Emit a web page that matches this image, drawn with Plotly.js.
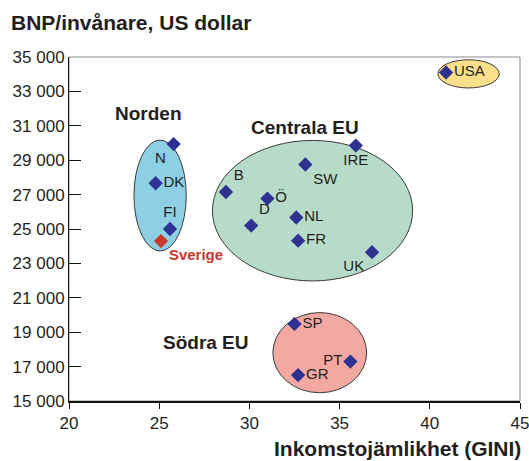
<!DOCTYPE html>
<html>
<head>
<meta charset="utf-8">
<script src="https://cdn.plot.ly/plotly-3.0.1.min.js"></script>
<style>
  html, body { margin: 0; padding: 0; background: #fff; }
  #chart { width: 529px; height: 461px; }
</style>
</head>
<body>
<div id="chart"></div>
<script>
// Country values
const countries = ['N', 'DK', 'FI', 'Sverige', 'B', 'Ö', 'D', 'SW', 'IRE', 'NL', 'FR', 'UK', 'USA', 'SP', 'PT', 'GR'];
const gini = [25.8, 24.8, 25.6, 25.1, 28.7, 31.0, 30.1, 33.1, 35.9, 32.6, 32.7, 36.8, 40.9, 32.5, 35.6, 32.7];
const gdp = [29940, 27660, 25000, 24300, 27150, 26770, 25200, 28750, 29850, 25670, 24320, 23650, 34100, 19480, 17290, 16510];
const labelPos = ['bottom left', 'middle right', 'top center', 'bottom right', 'top right', 'middle right',
  'top right', 'bottom right', 'bottom center', 'middle right', 'middle right', 'bottom left',
  'middle right', 'middle right', 'middle left', 'middle right'];
const xTicks = [20, 25, 30, 35, 40, 45];

// Groups and their ellipses
const groupNames = ['Norden', 'Centrala EU', 'Södra EU'];
const groupLabelX = [24.4, 33.1, 27.6];
const groupLabelY = [31700, 30900, 18400];
const ellipseX0 = [23.6, 27.95, 31.3, 40.45];
const ellipseX1 = [26.5, 39.05, 36.5, 43.85];
const ellipseY0 = [23720, 21980, 15480, 33200];
const ellipseY1 = [30170, 30150, 20140, 34840];
const ellipseFill = ['#8dd0e4', '#b6dbc9', '#f4a8a2', '#fbdf8b'];

const markerColors = countries.map(c => c === 'Sverige' ? '#c8382c' : '#2e3192');
const textColors = countries.map(c => c === 'Sverige' ? '#c8382c' : '#231f20');
const textLabels = countries.map(c => c === 'Sverige' ? '<b>' + c + '</b>' : c);

const trace = {
    x: gini,
    y: gdp,
    type: 'scatter',
    mode: 'markers+text',
    text: textLabels,
    textposition: labelPos,
    textfont: { family: 'Liberation Sans, Arial, sans-serif', size: 15, color: textColors },
    marker: { symbol: 'diamond', size: 11, color: markerColors },
    hoverinfo: 'x+y+text',
    cliponaxis: false
};

const shapes = ellipseX0.map((x0, i) => ({
    type: 'circle',
    xref: 'x', yref: 'y',
    x0: x0, x1: ellipseX1[i],
    y0: ellipseY0[i], y1: ellipseY1[i],
    fillcolor: ellipseFill[i],
    line: { color: '#3a3a3a', width: 1 },
    layer: 'below'
}));
// grey frame on top and right
shapes.push({
    type: 'rect', xref: 'paper', yref: 'paper', x0: 0, x1: 1, y0: 0, y1: 1,
    line: { color: '#8a8a8a', width: 1 }, layer: 'below'
});

const annotations = groupNames.map((g, i) => ({
    x: groupLabelX[i], y: groupLabelY[i], xref: 'x', yref: 'y',
    text: '<b>' + g + '</b>', showarrow: false,
    font: { family: 'Liberation Sans, Arial, sans-serif', size: 19, color: '#231f20' }
}));
annotations.push({
    x: 0, y: 1, xref: 'paper', yref: 'paper', xanchor: 'left', yanchor: 'bottom',
    xshift: -60, yshift: 21,
    text: '<b>BNP/invånare, US dollar</b>', showarrow: false,
    font: { family: 'Liberation Sans, Arial, sans-serif', size: 21, color: '#231f20' }
});
annotations.push({
    x: 1, y: 0, xref: 'paper', yref: 'paper', xanchor: 'right', yanchor: 'top',
    xshift: 3, yshift: -34,
    text: '<b>Inkomstojämlikhet (GINI)</b>', showarrow: false,
    font: { family: 'Liberation Sans, Arial, sans-serif', size: 21, color: '#231f20' }
});

const layout = {
    width: 529,
    height: 461,
    margin: { l: 69, r: 9, t: 57, b: 60 },
    paper_bgcolor: '#fff',
    plot_bgcolor: '#fff',
    showlegend: false,
    separators: ', ',
    font: { family: 'Liberation Sans, Arial, sans-serif', size: 17, color: '#231f20' },
    xaxis: {
        range: [20, 45],
        tickmode: 'array', tickvals: xTicks, ticktext: xTicks.map(String),
        ticklabeloverflow: 'allow',
        showgrid: false, zeroline: false,
        showline: true, linecolor: '#111', linewidth: 2,
        ticks: 'outside', ticklen: 6, tickcolor: '#111'
    },
    yaxis: {
        range: [15000, 35000], tick0: 15000, dtick: 2000,
        tickformat: ',d',
        showgrid: false, zeroline: false,
        showline: true, linecolor: '#111', linewidth: 1,
        ticks: 'inside', ticklen: 12, tickcolor: '#111'
    },
    shapes: shapes,
    annotations: annotations
};

Plotly.newPlot('chart', [trace], layout, { displayModeBar: false, staticPlot: true });
</script>
</body>
</html>
